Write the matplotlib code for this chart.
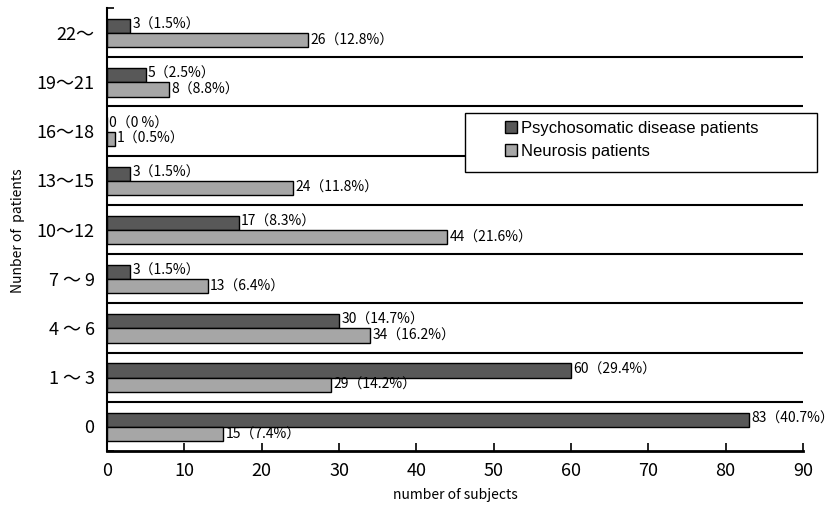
import matplotlib
matplotlib.use("Agg")
import matplotlib.pyplot as plt
import numpy as np
from matplotlib.patches import Rectangle

# Группы по числу пациентов (снизу вверх)
categories = ["0", "1 ～ 3", "4 ～ 6", "7 ～ 9", "10～12", "13～15", "16～18", "19～21", "22～"]
psycho_counts = [83, 60, 30, 3, 17, 3, 0, 5, 3]
psycho_pct = [40.7, 29.4, 14.7, 1.5, 8.3, 1.5, 0, 2.5, 1.5]
neuro_counts = [15, 29, 34, 13, 44, 24, 1, 8, 26]
neuro_pct = [7.4, 14.2, 16.2, 6.4, 21.6, 11.8, 0.5, 8.8, 12.8]
series_names = ["Psychosomatic disease patients", "Neurosis patients"]
x_ticks = list(range(0, 91, 10))

jp = ["Noto Sans CJK JP", "DejaVu Sans"]
dark = "#585858"
light = "#a6a6a6"


def label_text(v, p):
    if p == 0:
        return f"{v}（0 %）"
    return f"{v}（{p}%）"


fig = plt.figure(figsize=(8.33, 5.14), dpi=100)
ax = fig.add_axes([0.1285, 0.1226, 0.8355, 0.8618])

y = np.arange(len(categories))
h = 0.29
ax.barh(y + 0.135, psycho_counts, height=h, color=dark, edgecolor="black", linewidth=1.0, zorder=3)
ax.barh(y - 0.155, neuro_counts, height=h, color=light, edgecolor="black", linewidth=1.0, zorder=3)

# подписи значений
for i in range(len(categories)):
    ax.text(psycho_counts[i] + 0.3, y[i] + 0.16, label_text(psycho_counts[i], psycho_pct[i]),
            fontsize=10, family=jp, va="center", ha="left")
    ax.text(neuro_counts[i] + 0.3, y[i] - 0.16, label_text(neuro_counts[i], neuro_pct[i]),
            fontsize=10, family=jp, va="center", ha="left")

# разделительные линии между группами
for b in range(len(categories) - 1):
    ax.plot([0, 90], [b + 0.5, b + 0.5], color="black", linewidth=1.5, zorder=2)

ax.set_xlim(0, 90)
ax.set_ylim(-0.5, len(categories) - 0.5)
ax.set_xticks(x_ticks)
ax.set_xticklabels([str(t) for t in x_ticks], fontsize=13, family=jp)
ax.set_yticks(y)
ax.set_yticklabels(categories, fontsize=13, family=jp)
ax.set_yticks(np.arange(-0.5, len(categories)), minor=True)
ax.tick_params(axis="y", which="major", length=0, pad=9)
ax.tick_params(axis="y", which="minor", length=5, direction="in", width=1.2)
ax.tick_params(axis="x", which="major", length=6, direction="in", width=1.2, pad=8)

for s in ["top", "right"]:
    ax.spines[s].set_visible(False)
ax.spines["left"].set_linewidth(1.5)
ax.spines["bottom"].set_linewidth(2)

ax.set_xlabel("number of subjects", fontsize=10, family=jp, labelpad=6)
fig.text(0.022, 0.552, "Nunber of  patients", rotation=90, fontsize=10, family=jp,
         ha="center", va="center")

# легенда
fig.patches.append(Rectangle((0.558, 0.665), 0.423, 0.115, transform=fig.transFigure,
                             facecolor="white", edgecolor="black", linewidth=1.0, zorder=5))
handles = [Rectangle((0, 0), 1, 1, facecolor=dark, edgecolor="black", linewidth=1.0),
           Rectangle((0, 0), 1, 1, facecolor=light, edgecolor="black", linewidth=1.0)]
leg = fig.legend(handles, series_names, loc="upper left", bbox_to_anchor=(0.592, 0.787),
                 frameon=False, prop={"family": "Liberation Sans", "size": 12},
                 handlelength=0.75, handleheight=0.75, handletextpad=0.2,
                 labelspacing=0.45, borderpad=0.2)
leg.set_zorder(6)

fig.savefig("out.png", dpi=100)
